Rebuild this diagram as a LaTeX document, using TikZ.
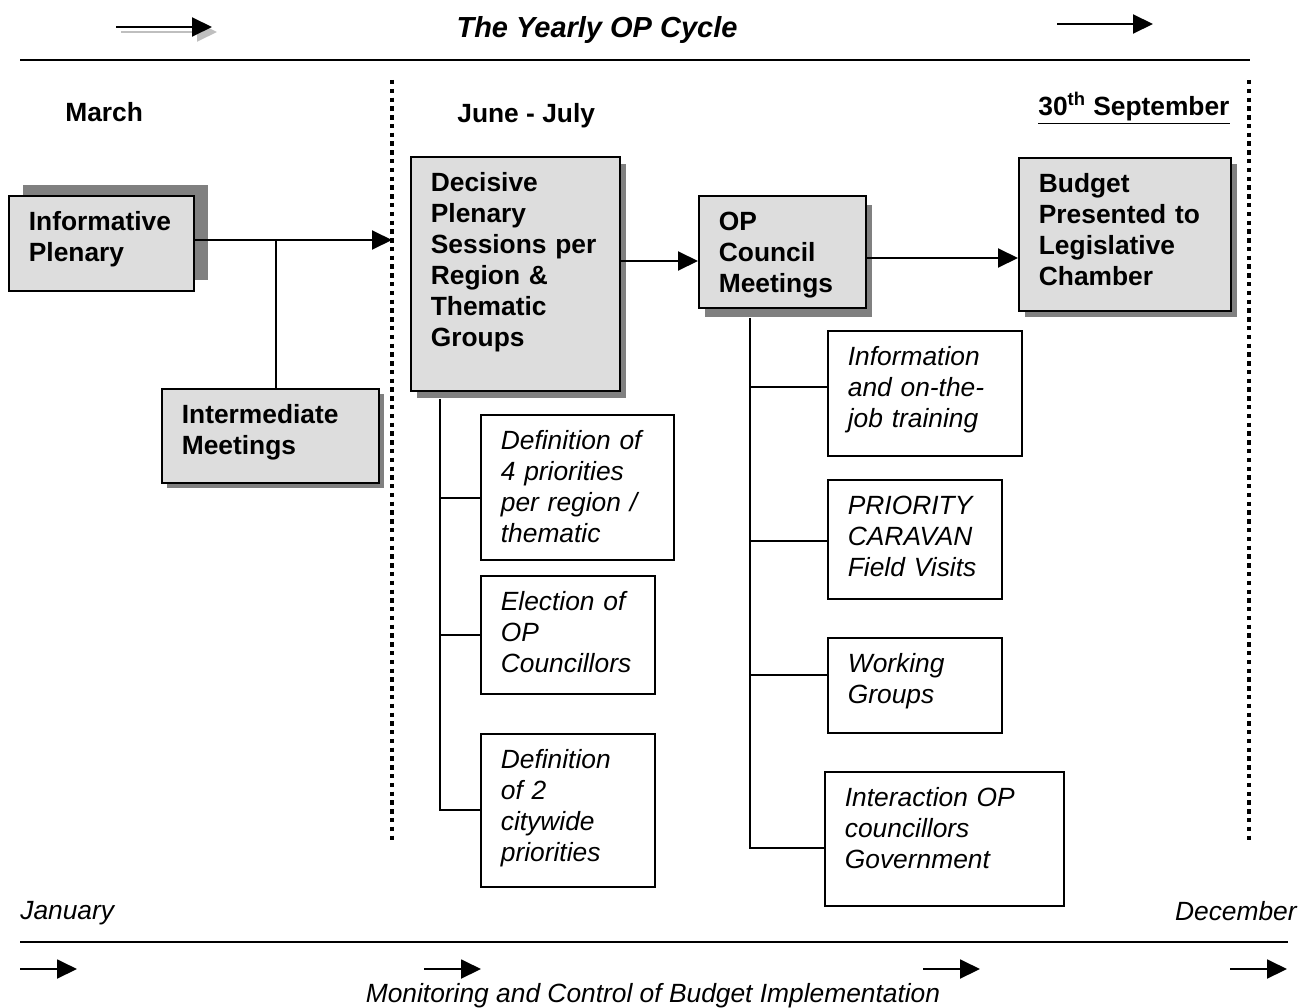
\documentclass[tikz,border=0pt]{standalone}
\usepackage{fontspec}
\setmainfont{Liberation Sans}
\usetikzlibrary{arrows.meta,calc,shadows}
\definecolor{boxfill}{HTML}{DDDDDD}
\definecolor{boxshade}{HTML}{808080}
\definecolor{arrowshade}{HTML}{BFBFBF}
\newcommand{\opfont}{\fontsize{15pt}{17.6pt}\selectfont}
\newcommand{\titlefont}{\fontsize{16.5pt}{19pt}\selectfont\bfseries\itshape}

\begin{document}
\begin{tikzpicture}[x=0.02cm, y=-0.02cm, >={Triangle[length=0.4cm,width=0.38cm]},
  stage/.style n args={4}{draw, line width=1pt, fill=boxfill, anchor=north west,
    inner xsep=0.4cm, inner ysep=0pt, align=left, font=\opfont\bfseries,
    text width={(#1-40)*0.02cm}, text height=0.7cm, text depth={(#2-35)*0.02cm},
    general shadow={fill=boxshade, shadow xshift=#3*0.02cm, shadow yshift=#4*0.02cm}},
  task/.style 2 args={draw, line width=1pt, fill=white, anchor=north west,
    inner xsep=0.4cm, inner ysep=0pt, align=left, font=\opfont\itshape,
    text width={(#1-40)*0.02cm}, text height=0.7cm, text depth={(#2-35)*0.02cm}},
  period/.style={inner sep=0pt, anchor=base west, font=\opfont\bfseries},
  month/.style={inner sep=0pt, font=\opfont\itshape},
  flow/.style={line width=1.1pt, ->},
  link/.style={line width=1.1pt},
  deadline/.style={line width=2.5pt, dash pattern=on 2.5pt off 2.5pt},
  rule/.style={line width=1.1pt}]

  \useasboundingbox (0,0) rectangle (1300,1007);

  % --- Header ---
  \node[inner sep=0pt, anchor=base, font=\titlefont] (title) at (597,38) {The Yearly OP Cycle};
  \coordinate (cyclestart) at (116,27);
  \coordinate (cycleend) at (212,27);
  \draw[flow, arrowshade] ($(cyclestart)+(5,5)$) -- ($(cycleend)+(5,5)$);
  \draw[flow] (cyclestart) -- (cycleend);
  \coordinate (yearstart) at (1057,24);
  \coordinate (yearend) at (1153,24);
  \draw[flow] (yearstart) -- (yearend);
  \draw[rule] (20,60) -- (1250,60);

  % --- Period labels ---
  \node[period] (march) at (65,121) {March};
  \node[period] (junejuly) at (457,122) {June - July};
  \node[period] (deadline) at (1038,115) {\underline{30\textsuperscript{th} September}};

  % --- Dotted period limits ---
  \coordinate (junetop) at (392,80);
  \coordinate (junebot) at (392,843);
  \coordinate (septtop) at (1249,80);
  \coordinate (septbot) at (1249,843);
  \draw[deadline] (junetop) -- (junebot);
  \draw[deadline] (septtop) -- (septbot);

  % --- Main stages ---
  \node[stage={185}{95}{14}{11}] (inform) at (8,195) {Informative\\Plenary};
  \node[stage={217}{94}{5}{-5}] (inter) at (161,388) {Intermediate\\Meetings};
  \node[stage={209}{234}{6}{-7}] (decisive) at (410,156)
    {Decisive\\Plenary\\Sessions per\\Region \&\\Thematic\\Groups};
  \node[stage={167}{112}{6}{-9}] (council) at (698,195) {OP\\Council\\Meetings};
  \node[stage={212}{153}{6}{-6}] (budget) at (1018,157)
    {Budget\\Presented to\\Legislative\\Chamber};

  % --- Tasks of the plenary sessions ---
  \node[task={193}{145}] (prio4) at (480,414)
    {Definition of\\4 priorities\\per region /\\thematic};
  \node[task={174}{118}] (elect) at (480,575) {Election of\\OP\\Councillors};
  \node[task={174}{153}] (prio2) at (480,733)
    {Definition\\of 2\\citywide\\priorities};

  % --- Tasks of the council ---
  \node[task={194}{125}] (training) at (827,330)
    {Information\\and on-the-\\job training};
  \node[task={174}{119}] (caravan) at (827,479) {PRIORITY\\CARAVAN\\Field Visits};
  \node[task={174}{95}] (working) at (827,637) {Working\\Groups};
  \node[task={239}{134}] (interact) at (824,771)
    {Interaction OP\\councillors\\Government};

  % --- Connectors ---
  \coordinate (fork) at (276,240);
  \draw[flow] (inform.east |- fork) -- (junetop |- fork);
  \draw[link] (fork) -- (fork |- inter.north);
  \draw[flow] (decisive.east |- 0,261) -- (council.west |- 0,261);
  \draw[flow] (council.east |- 0,258) -- (budget.west |- 0,258);

  \coordinate (dtrunk) at ([xshift=0.6cm, yshift=-0.14cm]decisive.south west);
  \draw[link] (dtrunk) |- (prio2.west);
  \draw[link] (dtrunk |- 0,498) -- (prio4.west |- 0,498);
  \draw[link] (dtrunk |- elect.west) -- (elect.west);

  \coordinate (ctrunk) at ([xshift=1.04cm, yshift=-0.18cm]council.south west);
  \draw[link] (ctrunk) |- (interact.west |- 0,848);
  \draw[link] (ctrunk |- 0,387) -- (training.west |- 0,387);
  \draw[link] (ctrunk |- 0,541) -- (caravan.west |- 0,541);
  \draw[link] (ctrunk |- 0,675) -- (working.west |- 0,675);

  % --- Footer ---
  \node[month, anchor=base west] (january) at (20,919) {January};
  \node[month, anchor=base east] (december) at (1297,920) {December};
  \draw[rule] (20,942) -- (1288,942);
  \foreach \xa in {20,424,923,1230}
    \draw[flow] (\xa,969) -- (\xa+57,969);
  \node[month, anchor=base] (monitor) at (653,1002)
    {Monitoring and Control of Budget Implementation};

\end{tikzpicture}
\end{document}
